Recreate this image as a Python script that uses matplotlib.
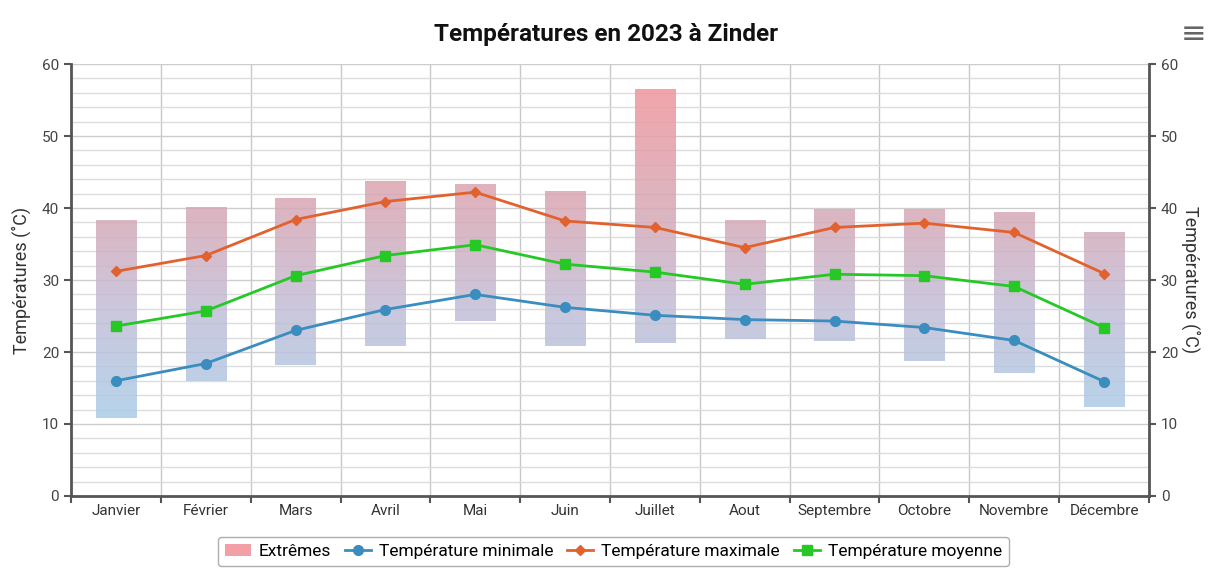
import numpy as np
import matplotlib.pyplot as plt
from matplotlib.colors import LinearSegmentedColormap, Normalize
from matplotlib.ticker import MultipleLocator, FixedLocator

plt.rcParams['font.family'] = ['Roboto', 'DejaVu Sans']

mois = ['Janvier', 'Février', 'Mars', 'Avril', 'Mai', 'Juin', 'Juillet',
        'Aout', 'Septembre', 'Octobre', 'Novembre', 'Décembre']
extreme_bas = [10.8, 16.0, 18.2, 20.8, 24.3, 20.8, 21.3, 21.8, 21.5, 18.8, 17.1, 12.4]
extreme_haut = [38.3, 40.1, 41.4, 43.8, 43.3, 42.4, 56.5, 38.3, 39.9, 39.9, 39.4, 36.6]
t_min = [16.0, 18.4, 23.0, 25.9, 28.0, 26.2, 25.1, 24.5, 24.3, 23.4, 21.6, 15.9]
t_max = [31.2, 33.4, 38.4, 40.9, 42.2, 38.2, 37.3, 34.5, 37.3, 37.9, 36.6, 30.9]
t_moy = [23.6, 25.7, 30.6, 33.4, 34.9, 32.2, 31.1, 29.4, 30.8, 30.6, 29.1, 23.4]

fig = plt.figure(figsize=(12.12, 5.69), dpi=100)
ax = fig.add_axes([0.0586, 0.1283, 0.8894, 0.7592])
x = np.arange(len(mois))

# Extrêmes: bars with a vertical blue -> mauve -> red gradient
cmap = LinearSegmentedColormap.from_list(
    'ext', [(0.0, '#a9cde8'), (0.35, '#c3bdd6'), (0.6, '#d4aab8'), (1.0, '#f0959c')])
norm = Normalize(10, 57)
bars = ax.bar(x, np.array(extreme_haut) - np.array(extreme_bas), bottom=extreme_bas,
              width=0.45, color='none', edgecolor='none', zorder=2)
for b, lo, hi in zip(bars, extreme_bas, extreme_haut):
    grad = np.linspace(lo, hi, 200).reshape(-1, 1)
    im = ax.imshow(grad, cmap=cmap, norm=norm, origin='lower', aspect='auto',
                   extent=[b.get_x(), b.get_x() + b.get_width(), lo, hi],
                   zorder=2, alpha=0.85)
    im.set_clip_path(b)

ax.plot(x, t_min, color='#3a8dbf', lw=2, marker='o', ms=7, zorder=4,
        label='Température minimale')
ax.plot(x, t_max, color='#e2622f', lw=2, marker='D', ms=5, zorder=4,
        label='Température maximale')
ax.plot(x, t_moy, color='#26c826', lw=2, marker='s', ms=7, zorder=4,
        label='Température moyenne')
ax.bar([0], [0], color='#f2a0a6', label='Extrêmes')

ax.set_xlim(-0.5, 11.5)
ax.set_ylim(0, 60)
ax.set_xticks(x)
ax.set_xticklabels(mois, fontsize=11, color='#333333')
ax.xaxis.set_minor_locator(FixedLocator(np.arange(-0.5, 12, 1)))
ax.tick_params(axis='x', which='major', length=0, pad=6)
ax.tick_params(axis='x', which='minor', length=5, width=1.5, color='#555555')
ax.grid(axis='x', which='minor', color='#c8c8c8', lw=1, zorder=0)

ax.yaxis.set_major_locator(MultipleLocator(10))
ax.yaxis.set_minor_locator(MultipleLocator(2))
ax.grid(axis='y', which='major', color='#cdcdcd', lw=1, zorder=0)
ax.grid(axis='y', which='minor', color='#dcdcdc', lw=1, zorder=0)
ax.tick_params(axis='y', which='major', length=5, width=1.5, color='#555555',
               labelsize=11, labelcolor='#444444')
ax.tick_params(axis='y', which='minor', length=0)
ax.set_axisbelow(True)

for s in ['left', 'bottom']:
    ax.spines[s].set_color('#555555')
    ax.spines[s].set_linewidth(2)
ax.spines['top'].set_visible(False)
ax.spines['right'].set_visible(False)
ax.set_ylabel('Températures (˚C)', fontsize=13, color='#333333', labelpad=8)

ax2 = ax.twinx()
ax2.set_ylim(0, 60)
ax2.yaxis.set_major_locator(MultipleLocator(10))
ax2.tick_params(axis='y', length=5, width=1.5, color='#555555',
                labelsize=11, labelcolor='#444444')
for s in ['left', 'bottom', 'top']:
    ax2.spines[s].set_visible(False)
ax2.spines['right'].set_color('#555555')
ax2.spines['right'].set_linewidth(2)
ax2.set_ylabel('Températures (˚C)', fontsize=13, color='#333333',
               rotation=270, labelpad=16)

h, l = ax.get_legend_handles_labels()
order = [3, 0, 1, 2]
leg = fig.legend([h[i] for i in order], [l[i] for i in order], loc='lower center',
                 bbox_to_anchor=(0.506, -0.01), ncol=4, fontsize=12.5, frameon=True,
                 fancybox=True, edgecolor='#999999', handlelength=1.5,
                 columnspacing=0.8, handletextpad=0.45, borderpad=0.4)
leg.get_frame().set_linewidth(1)

fig.text(0.5, 0.94, 'Températures en 2023 à Zinder', ha='center', va='center',
         fontsize=17.5, fontweight='bold', color='#111111')
fig.text(0.985, 0.94, '≡', ha='center', va='center', fontsize=22, color='#666666',
         family=['DejaVu Sans'])

fig.savefig('out.png', dpi=100)
